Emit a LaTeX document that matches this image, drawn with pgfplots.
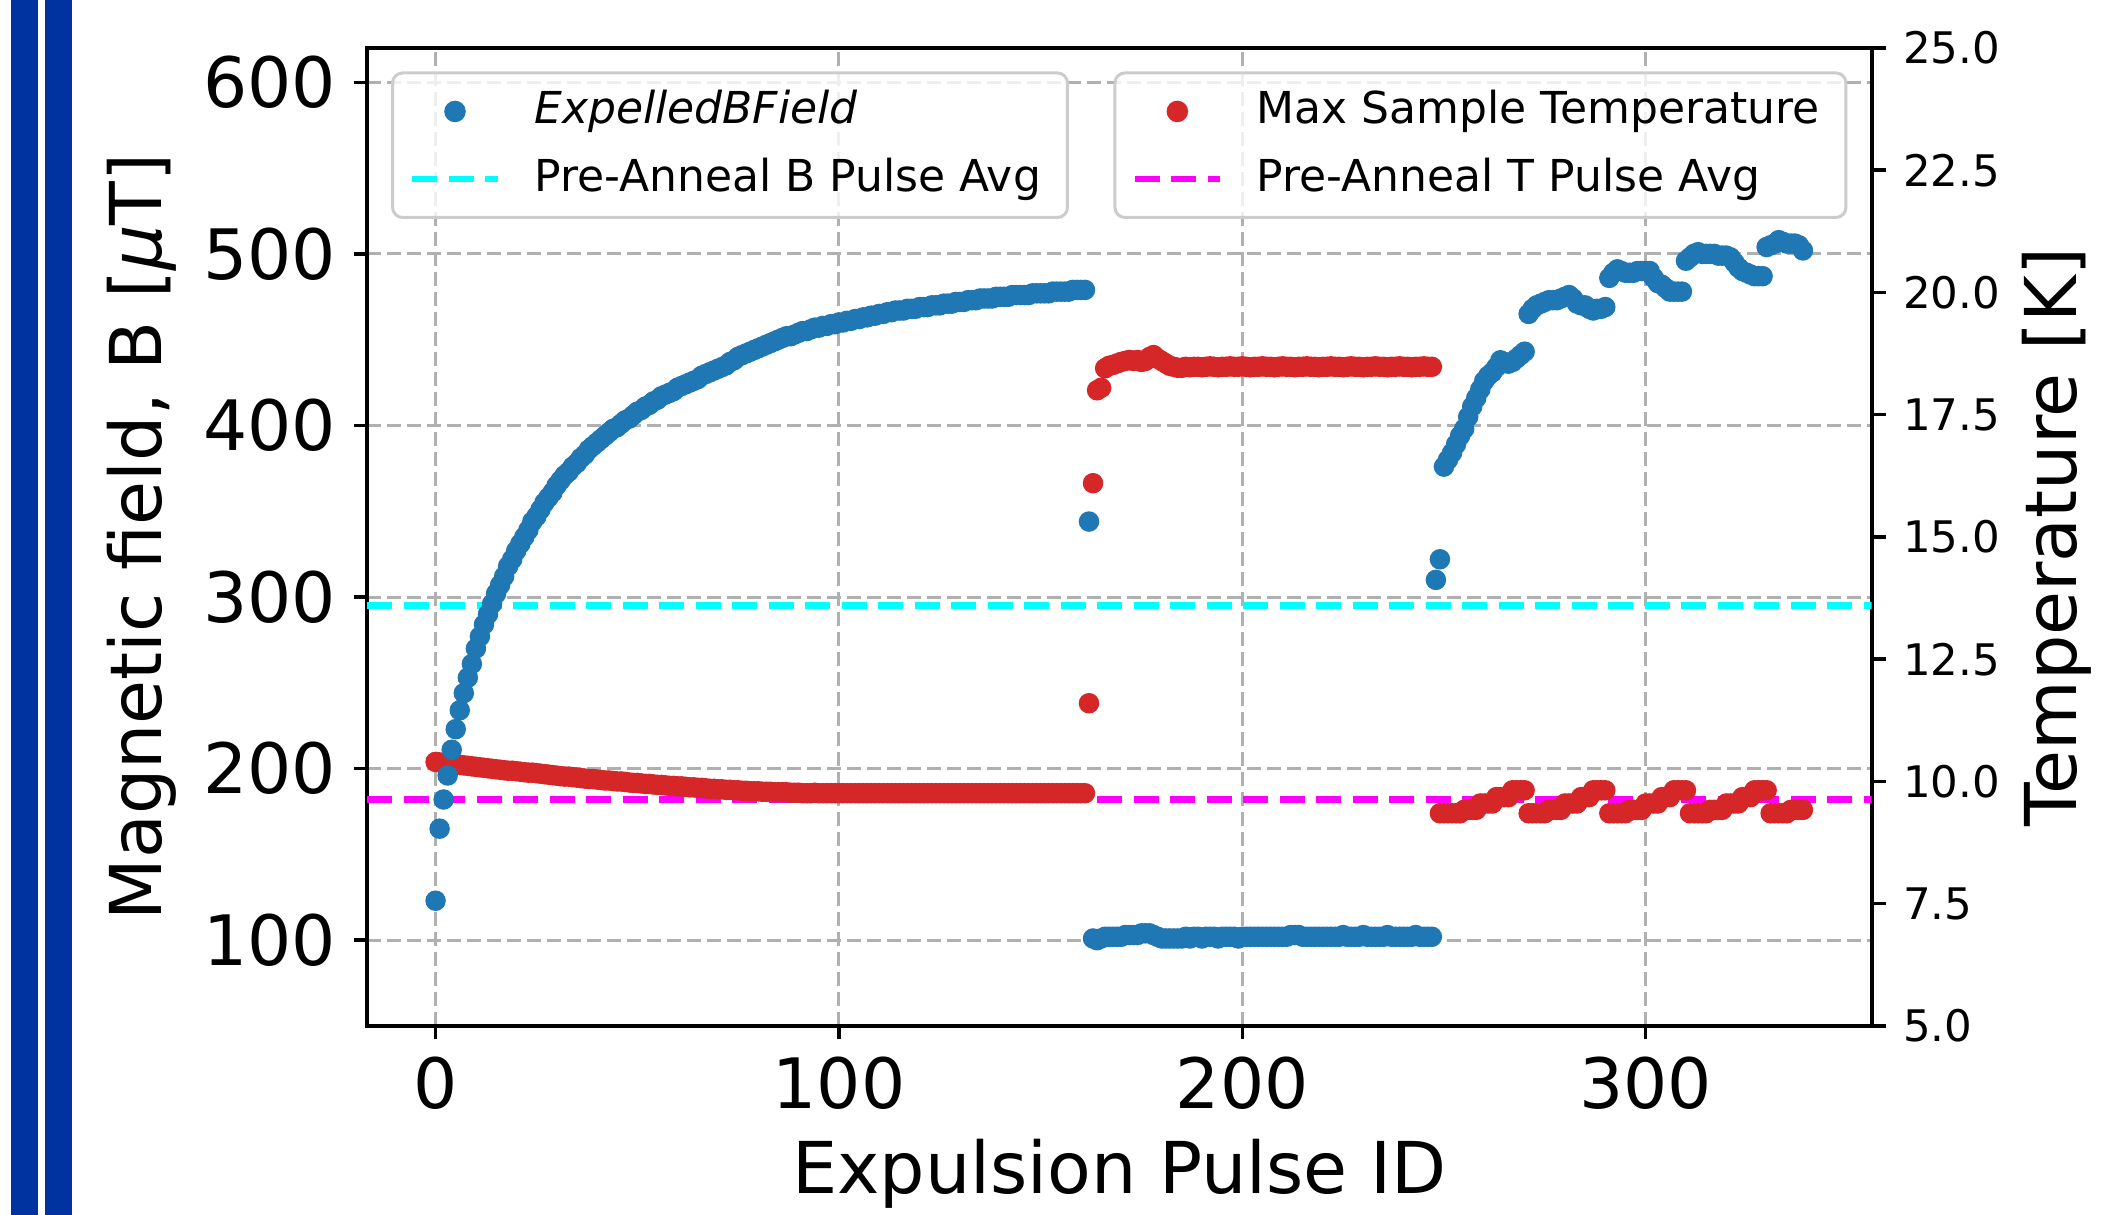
\documentclass[border=0pt]{standalone}
\usepackage{pgfplots}
\pgfplotsset{compat=1.18}
\usepackage{fontspec}
\setmainfont{DejaVu Sans}

\definecolor{mplblue}{HTML}{1F77B4}
\definecolor{mplred}{HTML}{D62728}
\definecolor{gridgray}{HTML}{B0B0B0}
\definecolor{barblue}{RGB}{0,51,160}
\definecolor{pcyan}{RGB}{0,255,255}
\definecolor{pmagenta}{RGB}{255,0,255}

% blue expelled field, one point per pulse
\pgfplotstableread{
x y
0 123
1 165
2 182
3 196
4 211
5 223
6 234
7 244
8 253
9 261
10 270
11 277
12 284
13 290
14 296
15 302
16 307
17 312
18 318
19 322
20 327
21 331
22 335
23 339
24 344
25 347
26 351
27 355
28 358
29 361
30 365
31 368
32 371
33 373
34 376
35 378
36 381
37 383
38 386
39 388
40 390
41 392
42 394
43 396
44 398
45 399
46 401
47 403
48 404
49 406
50 408
51 409
52 411
53 412
54 414
55 415
56 417
57 418
58 419
59 420
60 422
61 423
62 424
63 425
64 426
65 427
66 429
67 430
68 431
69 432
70 433
71 434
72 435
73 437
74 438
75 440
76 441
77 442
78 443
79 444
80 445
81 446
82 447
83 448
84 449
85 450
86 451
87 452
88 452
89 453
90 454
91 455
92 455
93 456
94 457
95 457
96 458
97 458
98 459
99 459
100 460
101 460
102 461
103 461
104 462
105 462
106 463
107 463
108 464
109 464
110 465
111 465
112 466
113 466
114 467
115 467
116 467
117 468
118 468
119 468
120 469
121 469
122 469
123 470
124 470
125 470
126 471
127 471
128 471
129 472
130 472
131 472
132 473
133 473
134 473
135 474
136 474
137 474
138 474
139 475
140 475
141 475
142 475
143 476
144 476
145 476
146 476
147 476
148 477
149 477
150 477
151 477
152 477
153 478
154 478
155 478
156 478
157 478
158 479
159 479
160 479
161 479
162 344
163 101
164 100
165 101
166 102
167 102
168 102
169 102
170 102
171 103
172 103
173 103
174 103
175 104
176 104
177 104
178 103
179 102
180 101
181 101
182 101
183 101
184 101
185 101
186 102
187 101
188 102
189 102
190 101
191 102
192 102
193 102
194 101
195 102
196 102
197 102
198 102
199 101
200 102
201 102
202 102
203 102
204 102
205 102
206 102
207 102
208 102
209 102
210 102
211 102
212 103
213 103
214 103
215 102
216 102
217 102
218 102
219 102
220 102
221 102
222 102
223 102
224 102
225 103
226 102
227 102
228 102
229 102
230 103
231 102
232 102
233 102
234 102
235 102
236 103
237 102
238 102
239 102
240 102
241 102
242 102
243 103
244 102
245 102
246 102
247 102
248 310
249 322
250 376
251 380
252 384
253 389
254 394
255 398
256 405
257 411
258 416
259 421
260 426
261 429
262 431
263 434
264 438
265 437
266 436
267 437
268 439
269 441
270 443
271 465
272 468
273 470
274 471
275 472
276 473
277 473
278 473
279 474
280 475
281 476
282 474
283 471
284 470
285 470
286 468
287 467
288 468
289 468
290 469
291 486
292 489
293 491
294 490
295 489
296 489
297 489
298 490
299 490
300 490
301 490
302 486
303 483
304 482
305 480
306 478
307 478
308 478
309 478
310 496
311 498
312 500
313 501
314 500
315 500
316 500
317 500
318 499
319 499
320 499
321 498
322 495
323 492
324 490
325 489
326 488
327 487
328 487
329 487
330 504
331 505
332 506
333 508
334 507
335 506
336 506
337 506
338 505
339 502
}\bfield

% red max sample temperature
\pgfplotstableread{
x y
0 10.40
1 10.39
2 10.38
3 10.37
4 10.36
5 10.35
6 10.34
7 10.33
8 10.32
9 10.31
10 10.30
11 10.29
12 10.28
13 10.27
14 10.26
15 10.25
16 10.24
17 10.23
18 10.22
19 10.22
20 10.21
21 10.20
22 10.19
23 10.18
24 10.18
25 10.17
26 10.16
27 10.15
28 10.14
29 10.13
30 10.12
31 10.11
32 10.10
33 10.10
34 10.09
35 10.08
36 10.07
37 10.06
38 10.05
39 10.05
40 10.04
41 10.03
42 10.02
43 10.02
44 10.01
45 10.00
46 10.00
47 9.99
48 9.98
49 9.97
50 9.97
51 9.96
52 9.95
53 9.95
54 9.94
55 9.93
56 9.93
57 9.92
58 9.91
59 9.91
60 9.90
61 9.90
62 9.89
63 9.88
64 9.88
65 9.87
66 9.87
67 9.86
68 9.85
69 9.85
70 9.84
71 9.84
72 9.83
73 9.83
74 9.82
75 9.82
76 9.81
77 9.81
78 9.80
79 9.80
80 9.80
81 9.79
82 9.79
83 9.79
84 9.78
85 9.78
86 9.78
87 9.78
88 9.77
89 9.77
90 9.77
91 9.76
92 9.76
93 9.76
94 9.77
95 9.76
96 9.76
97 9.76
98 9.76
99 9.76
100 9.76
101 9.76
102 9.76
103 9.76
104 9.76
105 9.76
106 9.76
107 9.76
108 9.76
109 9.76
110 9.76
111 9.76
112 9.76
113 9.76
114 9.76
115 9.76
116 9.76
117 9.76
118 9.76
119 9.76
120 9.76
121 9.76
122 9.76
123 9.76
124 9.76
125 9.76
126 9.76
127 9.76
128 9.76
129 9.76
130 9.76
131 9.76
132 9.76
133 9.76
134 9.76
135 9.76
136 9.76
137 9.76
138 9.76
139 9.76
140 9.76
141 9.76
142 9.76
143 9.76
144 9.76
145 9.76
146 9.76
147 9.76
148 9.76
149 9.76
150 9.76
151 9.76
152 9.76
153 9.76
154 9.76
155 9.76
156 9.76
157 9.76
158 9.76
159 9.76
160 9.76
161 9.76
162 11.60
163 16.10
164 18.00
165 18.05
166 18.45
167 18.50
168 18.52
169 18.55
170 18.58
171 18.60
172 18.62
173 18.60
174 18.62
175 18.58
176 18.60
177 18.68
178 18.72
179 18.65
180 18.60
181 18.55
182 18.50
183 18.48
184 18.46
185 18.46
186 18.48
187 18.47
188 18.48
189 18.48
190 18.47
191 18.48
192 18.49
193 18.48
194 18.47
195 18.48
196 18.48
197 18.49
198 18.48
199 18.48
200 18.49
201 18.48
202 18.47
203 18.48
204 18.48
205 18.49
206 18.48
207 18.48
208 18.47
209 18.48
210 18.49
211 18.48
212 18.48
213 18.47
214 18.48
215 18.48
216 18.49
217 18.48
218 18.48
219 18.47
220 18.48
221 18.48
222 18.49
223 18.48
224 18.48
225 18.47
226 18.48
227 18.49
228 18.48
229 18.48
230 18.47
231 18.48
232 18.48
233 18.49
234 18.48
235 18.48
236 18.47
237 18.48
238 18.48
239 18.49
240 18.48
241 18.48
242 18.47
243 18.48
244 18.48
245 18.49
246 18.48
247 18.48
249 9.35
250 9.35
251 9.35
252 9.35
253 9.35
254 9.35
255 9.42
256 9.42
257 9.42
258 9.42
259 9.55
260 9.55
261 9.55
262 9.55
263 9.68
264 9.68
265 9.68
266 9.68
267 9.82
268 9.82
269 9.82
270 9.82
271 9.35
272 9.35
273 9.35
274 9.35
275 9.35
276 9.42
277 9.42
278 9.42
279 9.42
280 9.55
281 9.55
282 9.55
283 9.55
284 9.68
285 9.68
286 9.68
287 9.82
288 9.82
289 9.82
290 9.82
291 9.35
292 9.35
293 9.35
294 9.35
295 9.35
296 9.42
297 9.42
298 9.42
299 9.42
300 9.55
301 9.55
302 9.55
303 9.55
304 9.68
305 9.68
306 9.68
307 9.82
308 9.82
309 9.82
310 9.82
311 9.35
312 9.35
313 9.35
314 9.35
315 9.35
316 9.42
317 9.42
318 9.42
319 9.42
320 9.55
321 9.55
322 9.55
323 9.55
324 9.68
325 9.68
326 9.68
327 9.82
328 9.82
329 9.82
330 9.82
331 9.35
332 9.35
333 9.35
334 9.35
335 9.35
336 9.42
337 9.42
338 9.42
339 9.42
}\temp

\pgfplotsset{
  common/.style={
    at={(0,0)}, anchor=south west,
    scale only axis, width=300.9pt, height=195.6pt,
    xmin=-17, xmax=356,
    /pgf/number format/assume math mode=true,
  },
  mpllegend/.style={
    legend cell align=left,
    legend image post style={fill opacity=1, draw opacity=1},
    legend style={
      draw=black!20, fill=white, fill opacity=0.8, text opacity=1,
      rounded corners=2pt, line width=0.6pt,
      font=\fontsize{8.8}{10.5}\selectfont,
      inner xsep=3.3pt, inner ysep=1.2pt, row sep=0.5pt,
      nodes={inner sep=2pt, text height=7pt, text depth=2pt},
      /tikz/every odd column/.append style={column sep=4.7pt},
    },
  },
}

\begin{document}
\begin{tikzpicture}
\useasboundingbox (-73.4pt,-37.8pt) rectangle (349.6pt,205.2pt);
\fill[barblue] (-71.2pt,-37.8pt) rectangle (-65.87pt,205.2pt);
\fill[barblue] (-64.33pt,-37.8pt) rectangle (-59pt,205.2pt);

% left axis: frame, grid, ticks, labels
\begin{axis}[
  common,
  ymin=50, ymax=620,
  xtick={0,100,200,300}, ytick={100,200,300,400,500,600},
  tick pos=left, tick align=outside,
  major tick length=2.7pt,
  every tick/.style={black, line width=0.7pt},
  axis line style={line width=0.8pt},
  grid=major,
  major grid style={gridgray, dash pattern=on 2.7pt off 1.3pt, line width=0.6pt},
  tick label style={font=\fontsize{13.9}{16}\selectfont},
  label style={font=\fontsize{14.3}{17}\selectfont},
  xlabel={Expulsion Pulse ID},
  ylabel={Magnetic field, B [{\itshape μ}T]},
  xlabel style={at={(axis description cs:0.5,-0.151)}, anchor=center},
  ylabel style={at={(axis description cs:-0.15,0.5)}, anchor=center},
]
\end{axis}

% right axis: temperature
\begin{axis}[
  common, mpllegend,
  ymin=5, ymax=25,
  ytick={5,7.5,10,12.5,15,17.5,20,22.5,25},
  axis x line=none, axis y line*=right,
  tick align=outside, major tick length=2.8pt,
  every tick/.style={black, line width=0.7pt},
  axis line style={line width=0.8pt},
  yticklabel style={font=\fontsize{8.7}{10}\selectfont,
    /pgf/number format/.cd, fixed, fixed zerofill, precision=1},
  ylabel={Temperature [K]},
  label style={font=\fontsize{14.3}{17}\selectfont},
  ylabel style={at={(axis description cs:1.123,0.5)}, anchor=center},
  legend style={at={(axis description cs:0.984,0.976)}, anchor=north east},
]
\addplot[only marks, mark=*, mark size=1.85pt, color=mplred,
  mark options={draw=none, fill=mplred}] table[x=x, y=y] {\temp};
\addlegendentry{Max Sample Temperature}
\addplot[pmagenta, line width=1.3pt, dash pattern=on 5pt off 2.3pt] coordinates {(-17,9.63) (356,9.63)};
\addlegendentry{Pre-Anneal T Pulse Avg}
\end{axis}

% blue field on top
\begin{axis}[
  common, mpllegend, hide axis,
  ymin=50, ymax=620,
  legend style={at={(axis description cs:0.016,0.976)}, anchor=north west},
]
\addplot[only marks, mark=*, mark size=1.85pt, color=mplblue,
  mark options={draw=none, fill=mplblue}] table[x=x, y=y] {\bfield};
\addlegendentry{\itshape ExpelledBField}
\addplot[pcyan, line width=1.3pt, dash pattern=on 5pt off 2.3pt] coordinates {(-17,295) (356,295)};
\addlegendentry{Pre-Anneal B Pulse Avg}
\end{axis}
\end{tikzpicture}
\end{document}
